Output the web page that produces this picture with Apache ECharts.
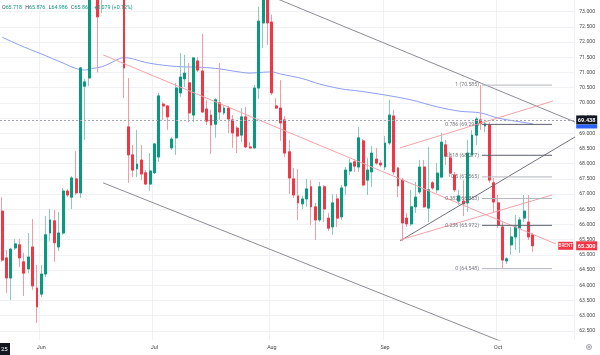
<!DOCTYPE html>
<html><head><meta charset="utf-8">
<script src="https://cdn.jsdelivr.net/npm/echarts@6/dist/echarts.min.js"></script>
<style>html,body{margin:0;padding:0;background:#fff}#c{width:600px;height:355px}</style>
</head><body><div id="c"></div>
<script>
const categories = [
'05-21','05-22','05-23','05-25','05-26','05-27','05-28','05-29','05-30',
'06-01','06-02','06-03','06-04','06-05','06-06',
'06-08','06-09','06-10','06-11','06-12','06-13',
'06-15','06-16','06-17','06-18','06-19','06-20',
'06-22','06-23','06-24','06-25','06-26','06-27',
'06-29','06-30',
'07-01','07-02','07-03','07-04',
'07-06','07-07','07-08','07-09','07-10','07-11',
'07-13','07-14','07-15','07-16','07-17','07-18',
'07-20','07-21','07-22','07-23','07-24','07-25',
'07-27','07-28','07-29','07-30','07-31',
'08-01',
'08-03','08-04','08-05','08-06','08-07','08-08',
'08-10','08-11','08-12','08-13','08-14','08-15',
'08-17','08-18','08-19','08-20','08-21','08-22',
'08-24','08-25','08-26','08-27','08-28','08-29',
'08-31',
'09-01','09-02','09-03','09-04','09-05',
'09-07','09-08','09-09','09-10','09-11','09-12',
'09-14','09-15','09-16','09-17','09-18','09-19',
'09-21','09-22','09-23','09-24','09-25','09-26',
'09-28','09-29','09-30',
'10-01','10-02','10-03',
'10-05','10-06','10-07','10-08','10-09','10-10',
'10-12','10-13','10-14','10-15','10-16','10-17',
'10-19','10-20','10-21'];

const open = [66.44,64.90,64.24,65.23,65.33,64.77,64.54,65.26,63.91,63.71,
64.37,65.72,66.12,65.26,65.72,67.10,66.90,67.50,67.04,70.55,
70.82,74.20,74.60,73.60,74.50,75.60,76.70,77.60,76.20,69.21,
68.29,67.83,68.12,67.70,67.33,67.70,68.22,69.96,69.90,68.52,
68.85,70.33,70.79,70.66,69.60,71.38,71.05,69.80,69.60,69.30,
70.00,69.67,69.83,69.44,69.17,68.94,69.54,68.55,68.52,70.49,
72.63,74.00,72.66,69.90,69.83,69.44,68.39,67.50,66.94,66.68,
66.84,67.24,66.58,66.15,67.24,66.21,65.92,66.84,66.25,67.27,
67.76,68.06,67.89,68.75,67.46,67.73,68.15,68.02,67.89,68.68,
69.57,67.86,67.46,66.21,66.02,66.58,67.07,67.89,66.54,67.37,
67.14,67.56,68.62,68.19,67.63,66.77,66.77,66.71,68.29,68.94,
69.44,69.24,69.27,67.37,66.71,65.92,64.80,65.33,65.59,65.88,
66.21,66.08,65.66];
const close = [64.83,64.24,65.19,65.36,64.90,64.40,64.93,63.98,63.29,64.37,
65.66,66.15,65.40,65.72,67.10,66.97,67.53,67.04,71.15,70.69,
74.10,74.70,72.83,74.40,75.60,76.70,77.10,76.40,71.15,68.29,
67.79,67.99,67.66,67.33,67.76,68.65,70.23,69.90,69.54,68.81,
70.49,70.85,70.98,69.67,71.48,71.08,69.70,69.40,69.27,70.10,
69.70,69.83,69.47,69.01,68.91,69.54,68.55,68.52,70.49,72.69,
74.00,72.63,70.33,69.83,69.34,68.35,67.53,66.97,66.71,66.84,
67.17,66.58,66.15,67.24,66.51,65.88,66.71,66.21,67.20,67.79,
68.02,67.92,68.85,67.30,67.79,68.35,68.02,67.96,68.68,69.60,
67.73,67.27,66.05,66.02,66.58,66.90,67.89,66.58,67.14,67.20,
67.69,68.71,68.25,67.69,67.14,66.94,66.68,68.35,68.94,69.47,
69.31,69.31,67.46,66.74,65.98,64.83,64.87,65.59,65.92,66.15,
66.44,65.59,65.30];
const high = [66.90,65.16,65.23,65.52,65.52,65.06,65.72,66.18,64.67,64.67,
66.28,66.51,66.48,66.41,67.20,67.17,67.59,68.42,71.18,70.79,
74.60,75.90,75.20,75.00,76.20,77.40,79.00,78.60,77.00,70.82,
68.62,69.11,68.62,67.79,68.35,68.68,70.33,70.03,69.93,68.88,
70.66,71.64,71.58,71.31,71.51,71.51,72.27,70.10,69.77,70.16,
71.31,69.90,69.90,69.60,69.24,69.83,69.87,68.71,70.59,73.16,
74.30,74.40,72.90,70.16,70.75,69.57,68.78,67.86,67.83,66.94,
67.50,67.46,66.71,67.40,67.30,66.38,67.00,67.00,67.30,67.89,
68.15,68.15,69.21,68.81,68.19,68.58,68.52,68.12,68.91,70.10,
69.77,67.89,67.53,66.38,67.14,67.40,68.12,68.12,68.55,67.43,
68.02,69.01,68.78,68.39,67.73,67.14,67.46,68.78,69.11,69.54,
70.585,69.37,69.37,67.53,66.97,66.08,64.93,65.92,66.31,66.25,
66.97,66.97,65.72];
const low = [64.77,63.75,63.52,65.16,64.60,63.65,64.40,63.85,62.76,63.61,
64.27,65.46,64.77,65.13,65.66,66.90,66.51,66.97,66.87,68.78,
70.55,73.60,71.00,72.96,74.00,75.00,76.00,75.50,70.16,67.37,
67.56,67.56,67.46,67.30,67.10,67.66,68.06,69.44,69.11,68.45,
68.29,70.20,70.52,69.37,69.37,71.02,69.67,69.27,68.32,68.85,
69.44,69.60,69.01,68.52,68.35,68.71,68.52,68.49,68.48,70.13,
71.81,71.90,70.26,69.80,68.75,68.22,67.00,66.87,66.15,66.51,
66.58,65.98,65.49,66.08,66.08,65.79,65.66,65.92,66.15,66.97,
67.63,67.73,67.73,67.27,66.97,67.23,67.96,67.89,67.79,68.62,
67.63,66.90,65.46,65.92,65.95,66.38,67.00,66.54,66.08,67.14,
67.04,67.53,67.96,67.56,67.07,66.64,66.28,66.41,68.22,68.62,
69.11,69.04,67.37,66.41,65.89,64.548,64.70,65.00,65.16,65.06,
66.08,65.49,65.10];

// moving average: [bar index, value]
const maPoints = [[0,72.16],[4,71.90],[9,71.61],[14,71.31],[17,71.13],[19,71.08],[21,71.14],[23,71.19],
[25,71.32],[27,71.46],[28,71.49],[30,71.45],[33,71.33],[37,71.24],[41,71.19],[46,71.17],[50,71.12],
[53,71.05],[57,70.98],[60,71.01],[62,71.02],[64,70.95],[69,70.80],[73,70.62],[78,70.46],[82,70.39],
[88,70.26],[94,70.10],[100,69.87],[105,69.73],[110,69.67],[114,69.50],[118,69.40],[122,69.31]];

const monthStarts = ['06-01','07-01','08-01','09-01','10-01'];
const monthLabels = ['Jun','Jul','Aug','Sep','Oct'];
const yTicks = [62.5,63,63.5,64,64.5,65,65.5,66,66.5,67,67.5,68,68.5,69,69.5,70,70.5,71,71.5,72,72.5,73];

// drawings: [bar index, price]
const pinkDownTrend = [[23.2,71.58],[127.3,65.36]];
const channelUpper = [[61.6,73.52],[131.7,69.37]];
const channelLower = [[23.2,67.37],[119.0,61.91]];
const risingSupport = [[91.45,65.46],[131.7,68.88]];
const pinkChannelUpper = [[91.45,68.52],[126.6,70.06]];
const pinkChannelLower = [[91.45,65.49],[126.4,66.97]];

const fibRange = [110.3,126.4];
const fibLevels = ['1','0.786','0.618','0.5','0.382','0.236','0'];
const fibPrices = [70.585,69.293,68.277,67.565,66.853,65.972,64.548];
const fibColors = ['#b2b5be','#5d606b','#5d606b','#b2b5be','#b2b5be','#5d606b','#b2b5be'];

const refPrice = 69.438;
const lastPrice = close[close.length-1];
const symbolName = 'BRENT';
const header = {O:'65.718',H:'65.876',L:'64.986',C:'65.866',chg:'+0.079 (+0.12%)'};

const FONT = 'Roboto, "Liberation Sans", sans-serif';
const candleData = open.map((o,i)=>[o, close[i], low[i], high[i]]);
const bodyData = open.map((o,i)=>[o, close[i], Math.min(o,close[i]), Math.max(o,close[i])]);
const monthFn = (i, v) => monthStarts.indexOf(v) >= 0;

function drawLine(pts, color){
  return {type:'line', xAxisIndex:1, data:pts, symbol:'none', silent:true, z:6,
    lineStyle:{color, width:1}, animation:false};
}
const fibSeries = fibPrices.map((p,i)=>drawLine([[fibRange[0],p],[fibRange[1],p]], fibColors[i]));

const chart = echarts.init(document.getElementById('c'), null, {renderer:'canvas'});
chart.setOption({
  animation:false,
  backgroundColor:'#ffffff',
  textStyle:{fontFamily:FONT},
  grid:{left:0, right:25.8, top:0, bottom:15, outerBoundsMode:'none'},
  xAxis:[
    {type:'category', data:categories, boundaryGap:true,
     axisLine:{show:false}, axisTick:{show:false},
     axisLabel:{interval:monthFn, formatter:v=>monthLabels[monthStarts.indexOf(v)],
       fontSize:5.4, color:'#4a4a4a', margin:5, fontFamily:FONT},
     splitLine:{show:true, interval:monthFn, lineStyle:{color:'#f0f1f4', width:1}}},
    {type:'value', min:-0.5, max:categories.length-0.5, show:false}
  ],
  yAxis:{type:'value', position:'right', min:62.2, max:73.385,
    axisLine:{show:false},
    axisTick:{show:false, customValues:yTicks},
    axisLabel:{customValues:yTicks, formatter:v=>v.toFixed(3), fontSize:5.2, color:'#4a4a4a',
      margin:5, fontFamily:FONT},
    splitLine:{show:true, lineStyle:{color:'#f0f1f4', width:1}}},
  series:[
    {type:'line', xAxisIndex:1, data:maPoints, smooth:0.3, symbol:'none', silent:true, z:2,
     lineStyle:{color:'#8c9ef1', width:1},
     markLine:{silent:true, symbol:['none','none'], animation:false, precision:3, z:10,
       data:[
         {yAxis:refPrice, lineStyle:{type:[2,2], color:'#a3a6af', width:1},
          label:{show:true, position:'end', distance:2, offset:[0,2],
            formatter:()=>'{a|'+refPrice.toFixed(3)+'}\n{b|}',
            rich:{a:{backgroundColor:'#131722', color:'#fff', fontSize:5.6, fontWeight:'bold',
                     width:21, align:'center', padding:[2,0,1,0], fontFamily:FONT},
                  b:{backgroundColor:'#2962ff', width:21, height:4, fontSize:3}}}},
         {yAxis:lastPrice, lineStyle:{color:'rgba(255,255,255,0)', width:1},
          label:{show:true, position:'end', distance:2, offset:[-18,0],
            formatter:()=>'{n|'+symbolName+'} {p|'+lastPrice.toFixed(3)+'}',
            rich:{n:{backgroundColor:'#f23645', color:'#fff', fontSize:4.6, width:15, align:'center',
                     padding:[2,0,1,0], fontFamily:FONT},
                  p:{backgroundColor:'#f23645', color:'#fff', fontSize:5.6, fontWeight:'bold', width:21,
                     align:'center', padding:[2,0,1,0], fontFamily:FONT}}}}
       ]}},
    {type:'candlestick', data:candleData, barWidth:2.4, clip:true, silent:true, z:3,
     itemStyle:{color:'#8fd2c4', color0:'#f7a9af', borderColor:'#86cdbf', borderColor0:'#f49ca3', borderWidth:1}},
    {type:'candlestick', data:bodyData, barWidth:2.4, clip:true, silent:true, z:4,
     itemStyle:{color:'#089981', color0:'#f23645', borderColor:'#089981', borderColor0:'#f23645', borderWidth:1}},
    drawLine(pinkDownTrend,'#f4a2a8'),
    drawLine(channelUpper,'#8a8d96'),
    drawLine(channelLower,'#8a8d96'),
    drawLine(risingSupport,'#6f727c'),
    drawLine(pinkChannelUpper,'#f4a2a8'),
    drawLine(pinkChannelLower,'#f4a2a8'),
    ...fibSeries,
    {type:'scatter', xAxisIndex:1, symbolSize:0, silent:true, z:7,
     data:fibPrices.map((p,i)=>[fibRange[0],p]),
     label:{show:true, position:'left', distance:3, fontSize:5.2, color:'#50535e', fontFamily:FONT,
       formatter:p=>fibLevels[p.dataIndex]+' ('+fibPrices[p.dataIndex].toFixed(3)+')'}}
  ],
  graphic:[
    {type:'text', left:2, top:2, z:100, style:{
      text:'{k|O}{v|'+header.O+'} {k|H}{v|'+header.H+'} {k|L}{v|'+header.L+'} {k|C}{v|'+header.C+'} {v|'+header.chg+'}',
      rich:{k:{fill:'#3d4150', fontSize:5.3, fontFamily:FONT}, v:{fill:'#089981', fontSize:5.3, fontFamily:FONT}}}},
    {type:'group', left:0, bottom:0, z:100, children:[
      {type:'rect', shape:{x:0,y:0,width:10,height:12}, style:{fill:'#131722'}},
      {type:'text', x:1, y:3, style:{text:'25', fill:'#fff', fontSize:6, fontFamily:FONT}}
    ]},
    {type:'group', right:6, bottom:3, z:100, children:[
      {type:'circle', shape:{cx:2.5,cy:2.5,r:2.5}, style:{fill:'none', stroke:'#8a8d96', lineWidth:0.8}},
      {type:'circle', shape:{cx:2.5,cy:2.5,r:0.9}, style:{fill:'none', stroke:'#8a8d96', lineWidth:0.8}}
    ]}
  ]
});
</script>
</body></html>
